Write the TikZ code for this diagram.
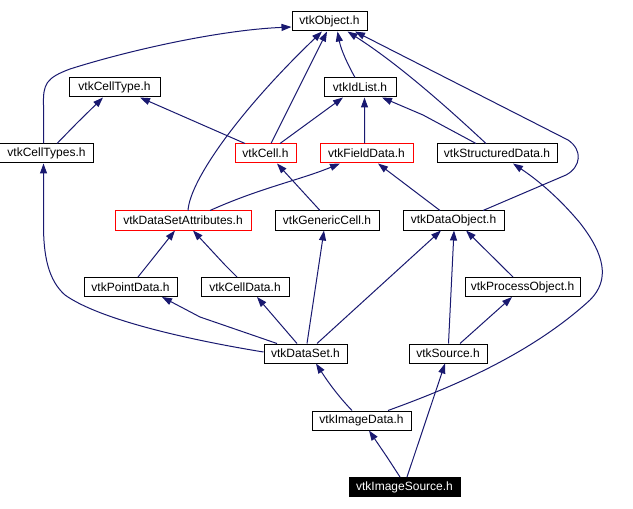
\documentclass[tikz,border=0pt]{standalone}
\usepackage{fontspec}
\setmainfont{Liberation Sans}
\usetikzlibrary{arrows.meta}
\definecolor{edgeblue}{RGB}{25,25,112}
\begin{document}
\begin{tikzpicture}[x=1bp,y=-1bp,
  box/.style={draw=black, line width=1bp, minimum height=19bp, inner sep=0pt,
    fill=white, font=\fontsize{12bp}{14bp}\selectfont},
  redbox/.style={box, draw=red},
  mainbox/.style={box, fill=black, text=white},
  edge/.style={draw=edgeblue, line width=1bp, -{Triangle[length=10bp,width=7bp]}}]
\useasboundingbox[fill=white] (0,0) rectangle (633,509);
% nodes
\node[box, minimum width=75bp] (obj) at (329.5,21.5) {vtkObject.h};
\node[box, minimum width=91bp] (celltype) at (114.5,87.5) {vtkCellType.h};
\node[box, minimum width=72bp] (idlist) at (360,87.5) {vtkIdList.h};
\node[box, minimum width=93bp] (celltypes) at (46.5,153.5) {vtkCellTypes.h};
\node[redbox, minimum width=61bp] (cell) at (265.5,153.5) {vtkCell.h};
\node[redbox, minimum width=93bp] (field) at (366.5,153.5) {vtkFieldData.h};
\node[box, minimum width=120bp] (struct) at (497,153.5) {vtkStructuredData.h};
\node[redbox, minimum width=136bp] (dsa) at (183,220.5) {vtkDataSetAttributes.h};
\node[box, minimum width=104bp] (gencell) at (327,220.5) {vtkGenericCell.h};
\node[box, minimum width=101bp] (dobj) at (453.5,220.5) {vtkDataObject.h};
\node[box, minimum width=93bp] (pdata) at (130.5,287) {vtkPointData.h};
\node[box, minimum width=88bp] (cdata) at (245,287) {vtkCellData.h};
\node[box, minimum width=115bp] (proc) at (522.5,287) {vtkProcessObject.h};
\node[box, minimum width=83bp] (dset) at (305.5,353.5) {vtkDataSet.h};
\node[box, minimum width=78bp] (src) at (448,353.5) {vtkSource.h};
\node[box, minimum width=99bp] (img) at (361.5,420.5) {vtkImageData.h};
\node[mainbox, minimum width=111bp] (imgsrc) at (404.5,487) {vtkImageSource.h};
% edges
\draw[edge] ([xshift=-3bp]celltypes.north) -- (43.5,105) .. controls (43,84) and (46,78) .. (70,69)
  .. controls (130,50) and (220,30) .. ([yshift=-5.5bp]obj.west);
\draw[edge] ([xshift=10.5bp]celltypes.north) -- (77,123) -- ([xshift=-11.5bp]celltype.south);
\draw[edge] ([xshift=-20.5bp]cell.north) -- ([xshift=25.5bp]celltype.south);
\draw[edge] ([xshift=5.5bp]cell.north) -- ([xshift=-2.5bp]obj.south);
\draw[edge] ([xshift=14.5bp]cell.north) -- ([xshift=-17bp]idlist.south);
\draw[edge] ([xshift=5bp]dsa.north) .. controls (190,180) and (240,110) .. ([xshift=-7.5bp]obj.south);
\draw[edge] ([xshift=-5bp]idlist.north) .. controls (348,65) and (341,50) .. ([xshift=8bp]obj.south);
\draw[edge] ([xshift=-2bp]field.north) -- ([xshift=4.5bp]idlist.south);
\draw[edge] ([xshift=-11bp]struct.north) .. controls (450,110) and (400,65) .. ([xshift=18bp]obj.south);
\draw[edge] ([xshift=-21bp]struct.north) -- (423,115) -- ([xshift=22bp]idlist.south);
\draw[edge] ([xshift=29.5bp]dobj.north) -- (566,175) .. controls (581,167) and (583,150) .. (568,140)
  -- ([xshift=25.5bp]obj.south);
\draw[edge] ([xshift=27bp]dsa.north) .. controls (260,188) and (300,180) .. ([xshift=-26.5bp]field.south);
\draw[edge] ([xshift=-7bp]gencell.north) -- ([xshift=11.5bp]cell.south);
\draw[edge] ([xshift=-13.5bp]dobj.north) -- ([xshift=11.5bp]field.south);
\draw[edge] ([xshift=7.5bp]pdata.north) -- (150,262) -- ([xshift=-8bp]dsa.south);
\draw[edge] ([xshift=-8bp]cdata.north) -- (225,265) -- ([xshift=10bp]dsa.south);
\draw[edge] ([yshift=1.5bp]dset.west) .. controls (190,340) and (100,320) .. (65,295)
  .. controls (48,280) and (43.5,255) .. (43.5,225) -- ([xshift=-3bp]celltypes.south);
\draw[edge] ([xshift=-28.5bp]dset.north) -- (200,317) -- ([xshift=31.5bp]pdata.south);
\draw[edge] ([xshift=-8.5bp]dset.north) -- ([xshift=12bp]cdata.south);
\draw[edge] ([xshift=1.5bp]dset.north) -- ([xshift=-3bp]gencell.south);
\draw[edge] ([xshift=11.5bp]dset.north) -- ([xshift=-12.5bp]dobj.south);
\draw[edge] ([xshift=-9.5bp]proc.north) -- ([xshift=12.5bp]dobj.south);
\draw[edge] ([xshift=0.5bp]src.north) -- ([xshift=0.5bp]dobj.south);
\draw[edge] ([xshift=12bp]src.north) -- ([xshift=-10.5bp]proc.south);
\draw[edge] ([xshift=-9.5bp]img.north) .. controls (340,398) and (330,385) .. ([xshift=10.5bp]dset.south);
\draw[edge] ([xshift=26.5bp]img.north) .. controls (450,388) and (530,355) .. (590,300)
  .. controls (610,280) and (605,255) .. (580,223)
  .. controls (565,205) and (545,185) .. ([xshift=16bp]struct.south);
\draw[edge] ([xshift=-4.5bp]imgsrc.north) -- (387,457) -- ([xshift=7.5bp]img.south);
\draw[edge] ([xshift=2.5bp]imgsrc.north) -- ([xshift=-3bp]src.south);
\end{tikzpicture}
\end{document}
